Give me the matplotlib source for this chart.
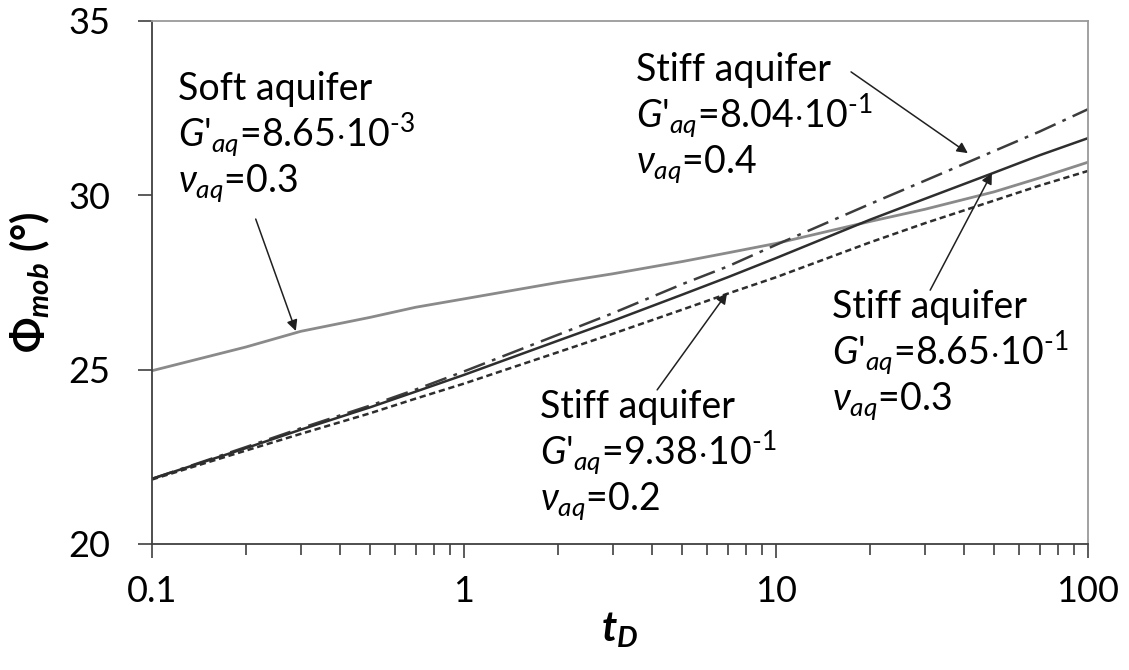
import matplotlib
matplotlib.use("Agg")
import matplotlib.pyplot as plt
from matplotlib.ticker import FixedLocator, NullFormatter, LogLocator

FONT = "Lato"
plt.rcParams['font.family'] = [FONT, 'DejaVu Sans']
plt.rcParams['mathtext.fontset'] = 'custom'
plt.rcParams['mathtext.rm'] = FONT
plt.rcParams['mathtext.it'] = FONT + ':italic'
plt.rcParams['mathtext.bf'] = FONT + ':bold'
plt.rcParams['mathtext.bfit'] = FONT + ':italic:bold'

# ---- data ----
t_stiff = [0.1, 0.2, 0.3, 0.5, 0.7, 1, 2, 3, 5, 7, 10, 20, 30, 50, 70, 100]
phi_stiff_nu04 = [21.87, 22.78, 23.32, 23.97, 24.43, 24.95, 26.0, 26.62, 27.45, 27.96,
                  28.58, 29.75, 30.42, 31.27, 31.83, 32.47]
phi_stiff_nu03 = [21.87, 22.75, 23.28, 23.92, 24.37, 24.85, 25.83, 26.4, 27.15, 27.65,
                  28.2, 29.3, 29.9, 30.65, 31.15, 31.64]
phi_stiff_nu02 = [21.85, 22.68, 23.16, 23.75, 24.17, 24.6, 25.5, 26.03, 26.72, 27.18,
                  27.65, 28.65, 29.2, 29.85, 30.28, 30.7]
t_soft = [0.1, 0.2, 0.3, 0.5, 0.7, 0.8, 1, 2, 3, 5, 7, 10, 20, 30, 50, 70, 100]
phi_soft = [24.97, 25.65, 26.1, 26.5, 26.79, 26.88, 27.03, 27.5, 27.75, 28.1, 28.35,
            28.62, 29.25, 29.6, 30.1, 30.5, 30.95]

x_ticks = [0.1, 1, 10, 100]
x_ticklabels = ["0.1", "1", "10", "100"]
y_ticks = [20, 25, 30, 35]

W, H = 1129, 670
fig = plt.figure(figsize=(W / 100, H / 100), dpi=100)
L, R, T, B = 152, 1088, 21, 544
ax = fig.add_axes([L / W, 1 - B / H, (R - L) / W, (B - T) / H])

ax.plot(t_soft, phi_soft, color="#8a8a8a", lw=2.0)
ax.plot(t_stiff, phi_stiff_nu04, color="#3c3c3c", lw=1.8, dashes=(9, 3, 1.5, 3))
ax.plot(t_stiff, phi_stiff_nu03, color="#2e2e2e", lw=1.8)
ax.plot(t_stiff, phi_stiff_nu02, color="#2e2e2e", lw=1.8, dashes=(2.5, 1.5))

ax.set_xscale("log")
ax.set_xlim(0.1, 100)
ax.set_ylim(20, 35)
ax.xaxis.set_major_locator(FixedLocator(x_ticks))
ax.set_xticklabels(x_ticklabels)
ax.xaxis.set_minor_locator(LogLocator(base=10, subs=range(2, 10)))
ax.xaxis.set_minor_formatter(NullFormatter())
ax.set_yticks(y_ticks)

for s in ["left", "bottom"]:
    ax.spines[s].set_color("#404040")
    ax.spines[s].set_linewidth(1.3)
for s in ["top", "right"]:
    ax.spines[s].set_color("#9a9a9a")
    ax.spines[s].set_linewidth(1.3)

ax.tick_params(axis="y", which="major", direction="out", length=10, width=1.2,
               color="#404040", labelsize=26, pad=20)
ax.tick_params(axis="x", which="major", direction="out", length=10, width=1.2,
               color="#404040", labelsize=26, pad=12)
ax.tick_params(axis="x", which="minor", direction="out", length=8, width=1.2,
               color="#404040")

ax.set_ylabel(r"$\mathbf{\Phi}_{\mathbfit{mob}}$ (°)", fontsize=30,
              fontweight="bold", labelpad=12)
ax.set_xlabel(r"$\mathbfit{t}_{\mathbfit{D}}$", fontsize=30, labelpad=2)

FS = 27
arrowprops = dict(arrowstyle="-|>", color="#202020", lw=1.1,
                  mutation_scale=16, shrinkA=0, shrinkB=0)

def axfrac(px, py):
    return (px - L) / (R - L), (B - py) / (B - T)

def block(px, py, title, g, nu, step=46):
    ax.text(*axfrac(px, py), title, fontsize=FS, transform=ax.transAxes, va="baseline")
    ax.text(*axfrac(px, py + step), r"$G\text{'}_{aq}$=" + g,
            fontsize=FS, transform=ax.transAxes, va="baseline")
    ax.text(*axfrac(px, py + 2 * step), r"$\nu_{aq}$=" + nu,
            fontsize=FS, transform=ax.transAxes, va="baseline")

block(178, 100, "Soft aquifer", r"8.65$\cdot$10$^{\text{-}3}$", "0.3")
block(636, 81, "Stiff aquifer", r"8.04$\cdot$10$^{\text{-}1}$", "0.4")
block(832, 318, "Stiff aquifer", r"8.65$\cdot$10$^{\text{-}1}$", "0.3")
block(540, 418, "Stiff aquifer", r"9.38$\cdot$10$^{\text{-}1}$", "0.2")

ax.annotate("", xy=(0.289, 26.11), xytext=(0.215, 29.32), arrowprops=arrowprops)
ax.annotate("", xy=(41.2, 31.21), xytext=(17.4, 33.54), arrowprops=arrowprops)
ax.annotate("", xy=(49.2, 30.64), xytext=(31.2, 27.28), arrowprops=arrowprops)
ax.annotate("", xy=(6.97, 27.2), xytext=(4.16, 24.42), arrowprops=arrowprops)

fig.savefig("out.png", dpi=100)
